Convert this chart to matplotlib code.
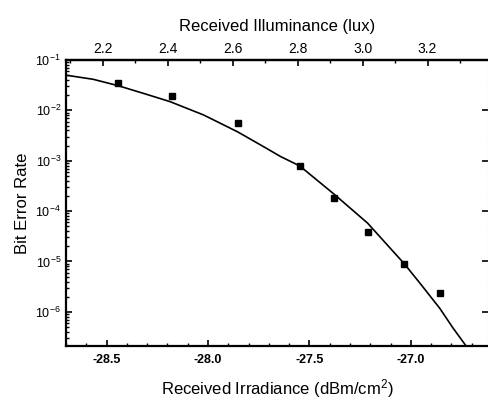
import matplotlib
matplotlib.use("Agg")
import matplotlib.pyplot as plt
from matplotlib.ticker import MultipleLocator, LogLocator, NullFormatter

plt.rcParams['font.family'] = ['Liberation Sans', 'DejaVu Sans']
plt.rcParams['mathtext.fontset'] = 'custom'
plt.rcParams['mathtext.rm'] = 'Liberation Sans'
plt.rcParams['mathtext.it'] = 'Liberation Sans'
plt.rcParams['mathtext.bf'] = 'Liberation Sans:bold'
plt.rcParams['mathtext.default'] = 'regular'

# measured data points
irradiance = [-28.443, -28.178, -27.851, -27.548, -27.378, -27.213, -27.032, -26.858]
ber = [3.45e-2, 1.96e-2, 5.5e-3, 7.9e-4, 1.83e-4, 3.9e-5, 8.8e-6, 2.4e-6]

# fitted curve
fit_x = [-28.706, -28.566, -28.443, -28.319, -28.187, -28.022, -27.856, -27.741,
         -27.642, -27.548, -27.378, -27.213, -27.032, -26.949, -26.858, -26.792,
         -26.726, -26.701]
fit_y = [5.04e-2, 4.14e-2, 3.09e-2, 2.18e-2, 1.49e-2, 8.11e-3, 3.78e-3, 2.06e-3,
         1.21e-3, 7.89e-4, 2.16e-4, 5.75e-5, 8.95e-6, 3.44e-6, 1.18e-6, 4.75e-7,
         2.05e-7, 1.47e-7]

bottom_ticks = [-28.5, -28.0, -27.5, -27.0]
top_ticks = [2.2, 2.4, 2.6, 2.8, 3.0, 3.2]

fig = plt.figure(figsize=(4.89, 4.04), dpi=100)
ax = fig.add_axes([66/489, 1-346/404, 422/489, 286/404])

ax.plot(fit_x, fit_y, color='black', lw=1.2, solid_joinstyle='round')
ax.plot(irradiance, ber, 's', color='black', markersize=4.3)

ax.set_yscale('log')
ax.set_xlim(-28.70, -26.62)
ax.set_ylim(2.1e-7, 1e-1)

ax.set_xticks(bottom_ticks)
ax.set_xticklabels(['%.1f' % t for t in bottom_ticks], fontweight='bold', fontsize=9)
ax.xaxis.set_minor_locator(MultipleLocator(0.1))
ax.yaxis.set_major_locator(LogLocator(base=10, numticks=20))
ax.yaxis.set_minor_locator(LogLocator(base=10, subs=range(2, 10), numticks=20))
ax.yaxis.set_minor_formatter(NullFormatter())
ax.tick_params(axis='y', labelsize=9)
ax.tick_params(axis='x', pad=6)

ax.tick_params(which='both', direction='in', right=True, top=False)
ax.tick_params(which='major', length=4, width=1.2)
ax.tick_params(which='minor', length=2.5, width=1.0)
ax.tick_params(axis='y', which='minor', right=False)

for s in ['left', 'bottom', 'top']:
    ax.spines[s].set_linewidth(1.6)
ax.spines['right'].set_color('#bbbbbb')
ax.spines['right'].set_linestyle(':')
ax.spines['right'].set_linewidth(0.8)

ax.set_xlabel('Received Irradiance (dBm/cm$^2$)', fontsize=12, labelpad=8)
ax.set_ylabel('Bit Error Rate', fontsize=12, labelpad=4)

ax2 = ax.twiny()
ax2.set_xlim(2.087, 3.386)
ax2.set_xticks(top_ticks)
ax2.set_xticklabels(['%.1f' % t for t in top_ticks], fontsize=10)
ax2.xaxis.set_minor_locator(MultipleLocator(0.1))
ax2.tick_params(which='both', direction='in', pad=3)
ax2.tick_params(which='major', length=4, width=1.2)
ax2.tick_params(which='minor', length=2.5, width=1.0)
for s in ['left', 'right', 'bottom']:
    ax2.spines[s].set_visible(False)
ax2.spines['top'].set_linewidth(1.6)
ax2.set_xlabel('Received Illuminance (lux)', fontsize=12, labelpad=8)

fig.savefig('out.png', dpi=100)
